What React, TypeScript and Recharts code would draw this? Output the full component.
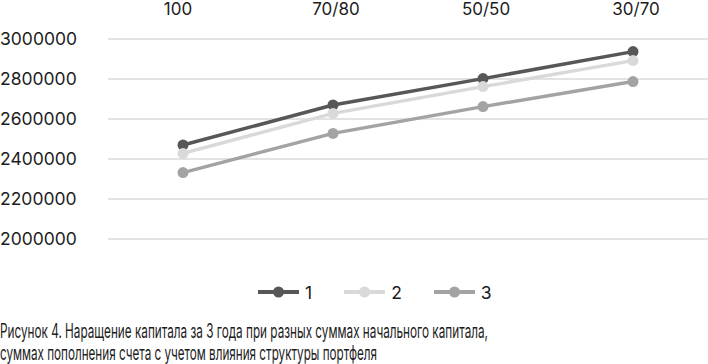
import { LineChart, Line, XAxis, YAxis, CartesianGrid, Legend } from 'recharts';

const categories = ['100', '70/80', '50/50', '30/70'];
const series1 = [2470000, 2670000, 2802000, 2937000];
const series2 = [2428000, 2628000, 2762000, 2892000];
const series3 = [2332000, 2528000, 2662000, 2787000];
const seriesNames = ['1', '2', '3'];
const yTicks = [2000000, 2200000, 2400000, 2600000, 2800000, 3000000];
const captionLines = [
  'Рисунок 4. Наращение капитала за 3 года при разных суммах начального капитала,',
  'суммах пополнения счета с учетом влияния структуры портфеля',
];

const colors = ['#575757', '#d9d9d9', '#a3a3a3'];
const font = 'Inter, "Noto Sans", sans-serif';
const textColor = '#1c1c1c';

const data = categories.map((c, i) => ({
  name: c,
  s1: series1[i],
  s2: series2[i],
  s3: series3[i],
}));

const XTick = (props: any) => {
  const { x, payload } = props;
  return (
    <text x={x} y={15} dx={payload.index === 0 ? -5 : 3} textAnchor='middle' fontSize={17} fontFamily={font} fill={textColor}>
      {payload.value}
    </text>
  );
};

const YTick = (props: any) => {
  const { y, payload } = props;
  return (
    <text x={0} y={y} dy={5.5} textAnchor='start' fontSize={17.5} fontFamily={font} fill={textColor}>
      {payload.value}
    </text>
  );
};

const renderLegend = () => (
  <div style={{ height: 64, paddingTop: 42, boxSizing: 'border-box', display: 'flex', paddingLeft: 258 }}>
    {seriesNames.map((n, i) => (
      <div key={n} style={{ display: 'flex', alignItems: 'center', height: 22, marginRight: 32 }}>
        <svg width={41} height={14}>
          <line x1={0} y1={7} x2={41} y2={7} stroke={colors[i]} strokeWidth={4} />
          <circle cx={20.5} cy={7} r={5.5} fill={colors[i]} />
        </svg>
        <span style={{ marginLeft: 6, fontFamily: font, fontSize: 17.5, color: textColor }}>{n}</span>
      </div>
    ))}
  </div>
);

// caption is drawn narrower than the font's natural width, squeezed like the source
const Caption = () => {
  const widths = [488, 377];
  const baselines = [34.5, 56.5];
  return (
    <svg width={708} height={61} style={{ display: 'block' }}>
      {captionLines.map((line, i) => (
        <g key={i} transform={`translate(0,${baselines[i]}) scale(1,1.15)`}>
          <text x={0} y={0} fontSize={17} fontFamily={font} fill={textColor} textLength={widths[i]} lengthAdjust='spacingAndGlyphs'>
            {line}
          </text>
        </g>
      ))}
    </svg>
  );
};

const App = () => {
  const keys = ['s1', 's2', 's3'];
  return (
    <div style={{ position: 'absolute', left: 0, top: 0, width: 708, height: 364, background: '#fff' }}>
      <LineChart width={708} height={303} data={data} margin={{ top: 0, right: 0, left: 0, bottom: 0 }}>
        <CartesianGrid vertical={false} stroke='#dadada' strokeWidth={1.5} />
        <XAxis
          dataKey='name'
          orientation='top'
          height={39}
          axisLine={false}
          tickLine={false}
          tick={<XTick />}
          padding={{ left: 75, right: 75 }}
        />
        <YAxis
          width={108}
          domain={[2000000, 3000000]}
          ticks={yTicks}
          axisLine={false}
          tickLine={false}
          tick={<YTick />}
        />
        <Legend verticalAlign='bottom' content={renderLegend} />
        {keys.map((k, i) => (
          <Line
            key={k}
            dataKey={k}
            name={seriesNames[i]}
            stroke={colors[i]}
            strokeWidth={3.5}
            dot={{ r: 5.5, fill: colors[i], stroke: colors[i], strokeWidth: 0 }}
            isAnimationActive={false}
          />
        ))}
      </LineChart>
      <Caption />
    </div>
  );
};

export default App;
